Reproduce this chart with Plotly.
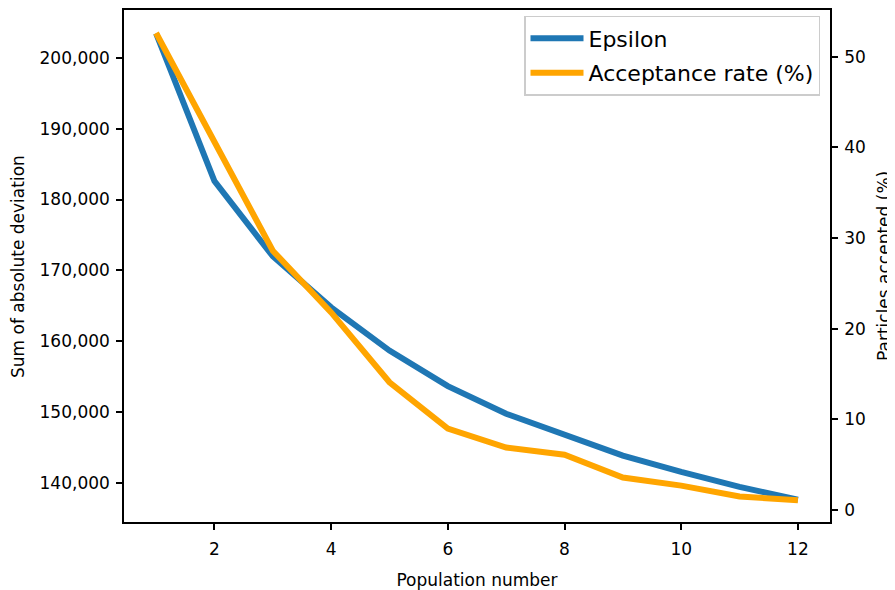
import plotly.graph_objects as go

population = [1, 2, 3, 4, 5, 6, 7, 8, 9, 10, 11, 12]
epsilon = [203400, 182600, 172000, 164800, 158700, 153700, 149800, 146900, 143900, 141600, 139500, 137700]
acceptance = [52.6, 40.6, 28.6, 21.8, 14.1, 9.0, 6.9, 6.1, 3.6, 2.7, 1.5, 1.1]

left_ticks = [140000, 150000, 160000, 170000, 180000, 190000, 200000]
right_ticks = [0, 10, 20, 30, 40, 50]
x_ticks = [2, 4, 6, 8, 10, 12]

FONT = "DejaVu Sans"
TICKFONT = dict(family=FONT, size=17, color="black")

# page body has an 8px margin; figure is sized/offset to compensate
W, H = 887, 582
L, R, T, B = 116, 65, 0, 67
PW = W - L - R
PH = H - T - B

fig = go.Figure()
fig.add_trace(go.Scatter(x=population, y=epsilon, mode="lines", name="Epsilon",
                         legendgroup="eps",
                         line=dict(color="#1f77b4", width=6), yaxis="y"))
fig.add_trace(go.Scatter(x=population, y=acceptance, mode="lines", name="Acceptance rate (%)",
                         legendgroup="acc",
                         line=dict(color="#ffa500", width=6), yaxis="y2"))

fig.update_layout(
    width=W, height=H,
    margin=dict(l=L, r=R, t=T, b=B),
    paper_bgcolor="white", plot_bgcolor="white",
    font=dict(family=FONT, color="black"),
    xaxis=dict(range=[0.45, 12.55], tickvals=x_ticks, showgrid=False, zeroline=False,
               showline=True, linecolor="black", linewidth=1.5, mirror=True,
               ticks="outside", ticklen=6, tickwidth=1.5, tickcolor="black",
               tickfont=TICKFONT, ticklabelstandoff=5,
               title=dict(text="Population number", font=dict(family=FONT, size=17, color="black"), standoff=19)),
    yaxis=dict(range=[134545, 206713], tickvals=left_ticks, tickformat=",d", showgrid=False, zeroline=False,
               showline=True, linecolor="black", linewidth=1.5, mirror=True,
               ticks="outside", ticklen=6, tickwidth=1.5, tickcolor="black",
               tickfont=TICKFONT, ticklabelstandoff=3),
    yaxis2=dict(range=[-1.31, 55.14], tickvals=right_ticks, overlaying="y", side="right",
                showgrid=False, zeroline=False, showline=True, linecolor="black", linewidth=1.5,
                ticks="outside", ticklen=6, tickwidth=1.5, tickcolor="black",
                tickfont=TICKFONT, ticklabelstandoff=3),
    legend=dict(x=(812 - L) / PW, y=(PH - 6) / PH, xanchor="right", yanchor="top",
                bgcolor="rgba(255,255,255,0.8)", bordercolor="#cccccc", borderwidth=1.5,
                itemwidth=53, tracegroupgap=3,
                font=dict(family=FONT, size=22, color="black")),
    annotations=[
        dict(text="Sum of absolute deviation", xref="paper", yref="paper",
             x=(10 - L) / PW, y=0.5, xanchor="center", yanchor="middle",
             textangle=-90, showarrow=False, font=dict(family=FONT, size=17, color="black")),
        dict(text="Particles accepted (%)", xref="paper", yref="paper",
             x=(876 - L) / PW, y=0.5, xanchor="center", yanchor="middle",
             textangle=-90, showarrow=False, font=dict(family=FONT, size=17, color="black")),
    ],
)

fig.write_html("out.html")
